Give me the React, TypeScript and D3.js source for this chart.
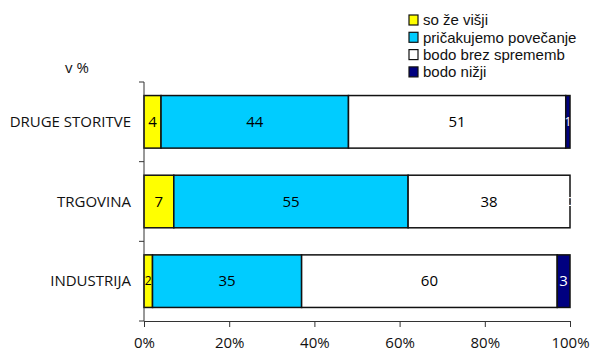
import { useEffect, useRef } from 'react';
import * as d3 from 'd3';

const categories = ['DRUGE STORITVE', 'TRGOVINA', 'INDUSTRIJA'];
const seriesNames = ['so že višji', 'pričakujemo povečanje', 'bodo brez sprememb', 'bodo nižji'];
const seriesColors = ['#ffff00', '#00ccff', '#ffffff', '#000080'];
const labelColors = ['#000', '#000', '#000', '#fff'];
const soZeVisji = [4, 7, 2];
const pricakujemo = [44, 55, 35];
const brezSprememb = [51, 38, 60];
const nizji = [1, 0, 3];
const tickValues = [0, 20, 40, 60, 80, 100];

const App = () => {
  const svgRef = useRef<SVGSVGElement>(null);

  useEffect(() => {
    const width = 595;
    const height = 352;
    const margin = { top: 82, right: 25, bottom: 31, left: 144 };
    const font = '"Open Sans", "DejaVu Sans", sans-serif';
    // compact line metrics so the tightly spaced legend rows do not collide
    const legendFont = '"Liberation Sans", Arial, sans-serif';

    const svg = d3.select(svgRef.current);
    svg.selectAll('*').remove();
    svg.attr('width', width).attr('height', height);

    const rows = categories.map((c, i) => ({
      cat: c,
      vals: [soZeVisji[i], pricakujemo[i], brezSprememb[i], nizji[i]],
    }));

    const x = d3.scaleLinear().domain([0, 100]).range([margin.left, width - margin.right]);
    const y = d3.scaleBand()
      .domain(categories)
      .range([margin.top, height - margin.bottom])
      .paddingInner(0.34)
      .paddingOuter(0.17);

    const step = y.step();

    // bars
    rows.forEach(r => {
      let acc = 0;
      r.vals.forEach((v, j) => {
        const x0 = acc;
        acc += v;
        const g = svg.append('g');
        if (v > 0) {
          g.append('rect')
            .attr('x', x(x0))
            .attr('y', y(r.cat)!)
            .attr('width', x(x0 + v) - x(x0))
            .attr('height', y.bandwidth())
            .attr('fill', seriesColors[j])
            .attr('stroke', '#111')
            .attr('stroke-width', 1.5);
        }
        g.append('text')
          .attr('x', (x(x0) + x(x0 + v)) / 2)
          .attr('y', y(r.cat)! + y.bandwidth() / 2)
          .attr('dy', '0.35em')
          .attr('text-anchor', 'middle')
          .attr('font-family', font)
          .attr('font-size', v < 3 ? 12 : 15)
          .attr('fill', labelColors[j])
          .text(v);
      });
    });

    // y axis
    const yAxis = svg.append('g');
    yAxis.append('line')
      .attr('x1', x(0)).attr('x2', x(0))
      .attr('y1', margin.top).attr('y2', height - margin.bottom)
      .attr('stroke', '#333');
    d3.range(categories.length + 1).forEach(i => {
      const yy = margin.top + i * step;
      yAxis.append('line')
        .attr('x1', x(0) - 5).attr('x2', x(0))
        .attr('y1', yy).attr('y2', yy)
        .attr('stroke', '#333');
    });
    categories.forEach(c => {
      yAxis.append('text')
        .attr('x', 131)
        .attr('y', y(c)! + y.bandwidth() / 2)
        .attr('dy', '0.35em')
        .attr('text-anchor', 'end')
        .attr('font-family', font)
        .attr('font-size', 15)
        .attr('fill', '#111')
        .text(c);
    });

    // x axis
    const xAxis = svg.append('g')
      .attr('transform', `translate(0,${height - margin.bottom})`)
      .call(d3.axisBottom(x).tickValues(tickValues).tickFormat(d => `${d}%`).tickSize(6).tickPadding(10));
    xAxis.select('.domain').attr('stroke', '#333');
    xAxis.selectAll('line').attr('stroke', '#333');
    xAxis.selectAll('text')
      .attr('font-family', font)
      .attr('font-size', 15)
      .attr('fill', '#111');

    svg.append('text')
      .attr('x', 65)
      .attr('y', 73)
      .attr('font-family', font)
      .attr('font-size', 15)
      .attr('fill', '#111')
      .text('v %');

    // legend
    const legend = svg.append('g').attr('transform', 'translate(409,15)');
    seriesNames.forEach((s, i) => {
      const gy = i * 17.3;
      legend.append('rect')
        .attr('x', 0).attr('y', gy)
        .attr('width', 9).attr('height', 10)
        .attr('fill', seriesColors[i])
        .attr('stroke', '#111')
        .attr('stroke-width', 1.2);
      legend.append('text')
        .attr('x', 14).attr('y', gy + 5)
        .attr('dy', '0.35em')
        .attr('font-family', legendFont)
        .attr('font-size', 15)
        .attr('fill', '#111')
        .text(s);
    });
  }, []);

  return (
    <svg ref={svgRef} style={{ position: 'absolute', left: 0, top: 0 }}></svg>
  );
};

export default App;
